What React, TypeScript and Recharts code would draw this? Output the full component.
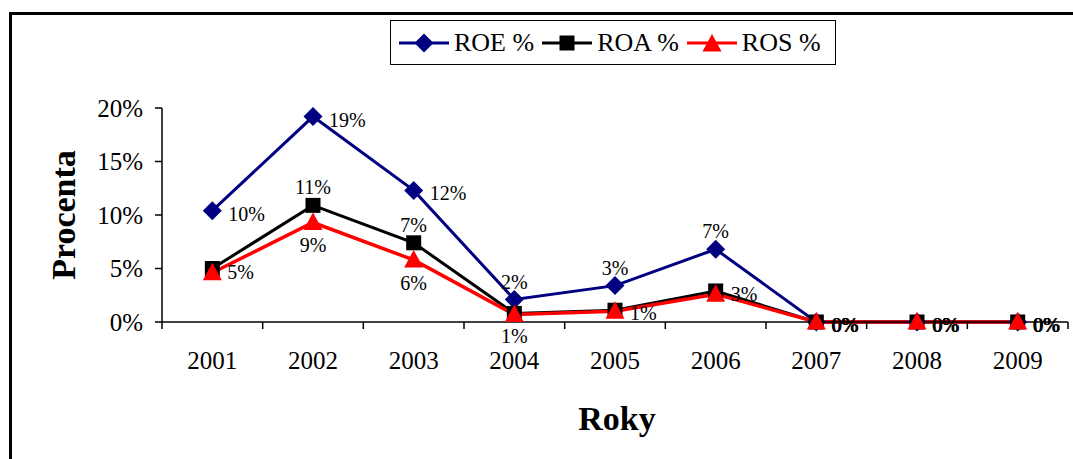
import React from "react";
import { LineChart, Line, XAxis, YAxis, Legend, LabelList } from "recharts";

const years = ["2001", "2002", "2003", "2004", "2005", "2006", "2007", "2008", "2009"];
const roe = [10.4, 19.2, 12.3, 2.1, 3.4, 6.8, 0, 0, 0];
const roa = [5.0, 10.9, 7.4, 0.8, 1.1, 2.9, 0, 0, 0];
const ros = [4.6, 9.3, 5.8, 0.7, 1.0, 2.6, 0, 0, 0];
const yTicks = [0, 5, 10, 15, 20];

// where each data label sits relative to its point (r = right, t = top, b = bottom, "" = none)
const roeSides = ["r", "r", "r", "t", "t", "t", "r", "r", "r"];
const roaSides = ["r", "t", "t", "b", "r", "r", "r", "r", "r"];
const rosSides = ["", "b", "b", "", "", "", "r", "r", "r"];

const FONT = "Liberation Serif, Tinos, DejaVu Serif, serif";
const NAVY = "#000080";
const RED = "#ff0000";

const W = 1073;
const H = 459;
const PLOT_LEFT = 162;
const PLOT_RIGHT = 1068;
const BAND = (PLOT_RIGHT - PLOT_LEFT) / years.length;

const data = years.map((year, i) => ({ year, roe: roe[i], roa: roa[i], ros: ros[i] }));

function Diamond({ cx, cy, fill }: any) {
  if (cx == null || cy == null) return null;
  return <polygon points={`${cx},${cy - 9.5} ${cx + 9.5},${cy} ${cx},${cy + 9.5} ${cx - 9.5},${cy}`} fill={fill} />;
}

function Square({ cx, cy, fill }: any) {
  if (cx == null || cy == null) return null;
  return <rect x={cx - 7.5} y={cy - 7.5} width={15} height={15} fill={fill} />;
}

function Triangle({ cx, cy, fill }: any) {
  if (cx == null || cy == null) return null;
  return <polygon points={`${cx},${cy - 10} ${cx + 9.5},${cy + 7.5} ${cx - 9.5},${cy + 7.5}`} fill={fill} />;
}

function makeLabel(sides: string[], nudge: number) {
  return (props: any) => {
    const { x, y, value, index } = props;
    const side = sides[index];
    if (!side || x == null || y == null) return null;
    const text = `${Math.round(value)}%`;
    let tx = x;
    let ty = y;
    let anchor: "start" | "middle" = "middle";
    if (side === "r") {
      tx = x + 15 + nudge;
      ty = y + 3;
      anchor = "start";
    } else if (side === "t") {
      ty = y - 18;
    } else {
      ty = y + 23;
    }
    return (
      <text x={tx} y={ty} textAnchor={anchor} dominantBaseline="central" fontSize={20} fontFamily={FONT} fill="#000">
        {text}
      </text>
    );
  };
}

function YearTick({ x, y, payload, index }: any) {
  const last = index === years.length - 1;
  return (
    <g>
      <line x1={x - BAND / 2} x2={x - BAND / 2} y1={y} y2={y + 7} stroke="#000" strokeWidth={1.5} />
      {last && <line x1={x + BAND / 2} x2={x + BAND / 2} y1={y} y2={y + 7} stroke="#000" strokeWidth={1.5} />}
      <text x={x} y={y + 47} textAnchor="middle" fontSize={25} fontFamily={FONT} fill="#000">
        {payload.value}
      </text>
    </g>
  );
}

function LegendIcon({ kind, color }: { kind: string; color: string }) {
  return (
    <svg width={50} height={24} style={{ display: "block" }}>
      <line x1={0} x2={50} y1={12} y2={12} stroke={color} strokeWidth={3} />
      {kind === "diamond" && <Diamond cx={25} cy={12} fill={color} />}
      {kind === "square" && <Square cx={25} cy={12} fill={color} />}
      {kind === "triangle" && <Triangle cx={25} cy={13} fill={color} />}
    </svg>
  );
}

const legendItems = [
  { name: "ROE %", kind: "diamond", color: NAVY },
  { name: "ROA %", kind: "square", color: "#000" },
  { name: "ROS %", kind: "triangle", color: RED },
];

function LegendBox() {
  return (
    <div
      style={{
        width: 446,
        height: 45,
        boxSizing: "border-box",
        border: "1.5px solid #000",
        background: "#fff",
        display: "flex",
        alignItems: "center",
        paddingLeft: 8,
        fontFamily: FONT,
        fontSize: 26,
        color: "#000",
      }}
    >
      {legendItems.map(item => (
        <div key={item.name} style={{ display: "flex", alignItems: "center", marginRight: 8 }}>
          <LegendIcon kind={item.kind} color={item.color} />
          <span style={{ marginLeft: 5, whiteSpace: "nowrap" }}>{item.name}</span>
        </div>
      ))}
    </div>
  );
}

export default function App() {
  return (
    <div style={{ position: "absolute", left: 0, top: 0, width: W, height: H, overflow: "hidden", background: "#fff" }}>
      <div
        style={{
          position: "absolute",
          left: 9,
          top: 12,
          width: 1200,
          height: 600,
          border: "3px solid #000",
        }}
      />
      <div style={{ position: "absolute", left: 0, top: 0 }}>
        <LineChart width={W} height={H} data={data} margin={{ top: 108, right: W - PLOT_RIGHT, bottom: 97, left: 82 }}>
          <XAxis
            dataKey="year"
            scale="band"
            height={40}
            tickSize={0}
            tickMargin={0}
            tick={<YearTick />}
            axisLine={{ stroke: "#000", strokeWidth: 1.5 }}
            label={{
              content: (p: any) => {
                const vb = p.viewBox;
                return (
                  <text x={vb.x + vb.width / 2 + 2} y={vb.y + 108} textAnchor="middle" fontSize={34} fontWeight="bold" fontFamily={FONT} fill="#000">
                    Roky
                  </text>
                );
              },
            }}
          />
          <YAxis
            width={80}
            domain={[0, 20]}
            ticks={yTicks}
            tickFormatter={(v: number) => `${v}%`}
            tickSize={7}
            tickMargin={12}
            tick={{ fontSize: 25, fontFamily: FONT, fill: "#000" }}
            tickLine={{ stroke: "#000", strokeWidth: 1.5 }}
            axisLine={{ stroke: "#000", strokeWidth: 1.5 }}
            label={{
              content: () => (
                <text
                  x={63}
                  y={215}
                  transform="rotate(-90 63 215)"
                  textAnchor="middle"
                  dominantBaseline="central"
                  fontSize={34}
                  fontWeight="bold"
                  fontFamily={FONT}
                  fill="#000"
                >
                  Procenta
                </text>
              ),
            }}
          />
          <Legend
            layout="horizontal"
            verticalAlign="middle"
            align="center"
            content={<LegendBox />}
            wrapperStyle={{ position: "absolute", left: 390, top: 20, width: 446, height: 45 }}
          />
          <Line dataKey="roe" name="ROE %" stroke={NAVY} strokeWidth={3} dot={<Diamond fill={NAVY} />} activeDot={false} isAnimationActive={false}>
            <LabelList dataKey="roe" content={makeLabel(roeSides, 1)} />
          </Line>
          <Line dataKey="roa" name="ROA %" stroke="#000" strokeWidth={3} dot={<Square fill="#000" />} activeDot={false} isAnimationActive={false}>
            <LabelList dataKey="roa" content={makeLabel(roaSides, 0)} />
          </Line>
          <Line dataKey="ros" name="ROS %" stroke={RED} strokeWidth={3.5} dot={<Triangle fill={RED} />} activeDot={false} isAnimationActive={false}>
            <LabelList dataKey="ros" content={makeLabel(rosSides, 0)} />
          </Line>
        </LineChart>
      </div>
    </div>
  );
}
